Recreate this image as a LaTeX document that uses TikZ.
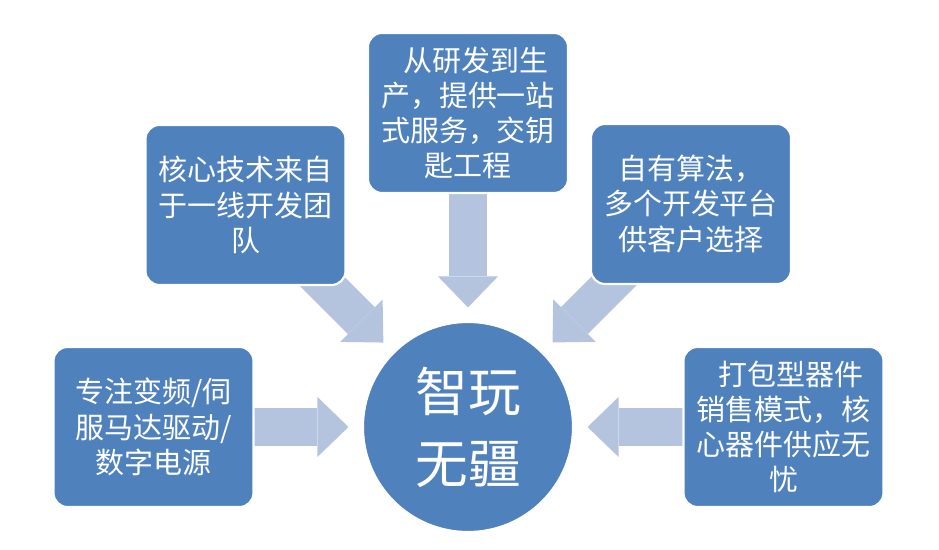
\documentclass[tikz,border=0pt]{standalone}
\usepackage{fontspec}
\newfontfamily\cjk{Noto Sans CJK SC}
\usepackage{tikz}
\usetikzlibrary{arrows.meta,backgrounds}
\definecolor{boxblue}{HTML}{4F81BD}
\definecolor{arrowblue}{HTML}{B4C3DE}

\tikzset{
  box/.style={fill=boxblue, draw=white, line width=1.2pt, rounded corners=0.28cm,
    minimum width=4cm, minimum height=3.2cm, align=center, text=white,
    font=\cjk\fontsize{16.5}{20}\selectfont},
  hub/.style={circle, fill=boxblue, draw=white, line width=1.2pt, minimum size=4.2cm,
    align=center, text=white, font=\cjk\fontsize{30}{41}\selectfont},
  bigarrow/.style={color=arrowblue, line width=0.76cm, shorten >=0.27cm,
    -{Triangle[length=0.62cm, width=1.2cm, line width=0pt]}}
}

\begin{document}
\begin{tikzpicture}
  \useasboundingbox (0,0) rectangle (18.78,11);
   \draw (9.36,2.46) node[hub] (zhiwan) {智玩\\无疆};
    \draw (9.36,8.74) node[box] (yanfa) {\hspace*{0.55em}从研发到生\\产，提供一站\\式服务，交钥\\匙工程};
    \draw (4.91,6.90) node[box] (jishu) {核心技术来自\\于一线开发团\\队};
    \draw (13.82,6.92) node[box] (suanfa) {自有算法，\\多个开发平台\\供客户选择};
  \draw (3.07,2.46) node[box] (bianpin) {专注变频/伺\\服马达驱动/\\数字电源};
  \draw (15.67,2.46) node[box] (qijian) {\hspace*{0.55em}打包型器件\\销售模式，核\\心器件供应无\\忧};

  \begin{scope}[on background layer]
       \path[bigarrow] (yanfa.center) edge (zhiwan);
       \path[bigarrow] (jishu.center) edge (zhiwan);
       \path[bigarrow] (suanfa.center) edge (zhiwan);
       \path[bigarrow] (bianpin.center) edge (zhiwan);
       \path[bigarrow] (qijian.center) edge (zhiwan);
  \end{scope}
\end{tikzpicture}
\end{document}
